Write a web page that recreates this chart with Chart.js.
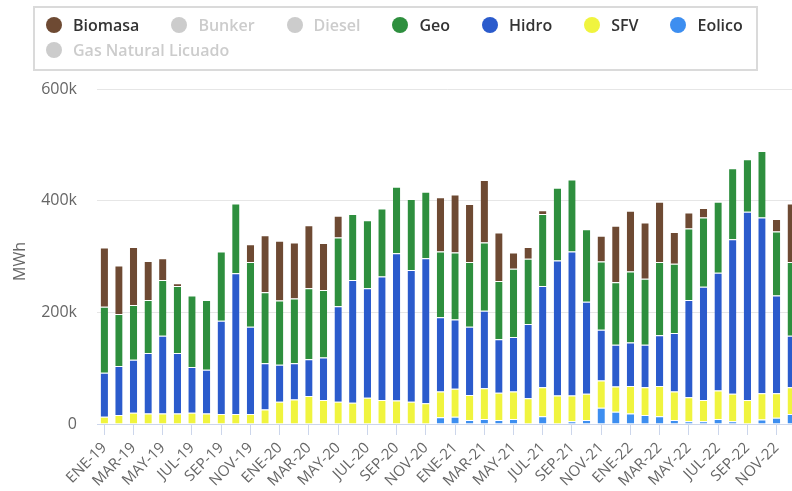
<!DOCTYPE html>
<html>
<head>
<meta charset="utf-8">
<script src="https://cdn.jsdelivr.net/npm/chart.js@4.4.1/dist/chart.umd.min.js"></script>
<style>
  html, body { margin: 0; padding: 0; overflow: hidden; background: #fff; }
  #wrap { position: absolute; left: 0; top: 0; width: 808px; height: 491px; }
  #legend {
    position: absolute; left: 33px; top: 6px; width: 725px; height: 65px;
    box-sizing: border-box; border: 2px solid #dadada; padding: 4px 0 0 11px;
    display: flex; flex-wrap: wrap; align-content: flex-start; column-gap: 32px;
    font: 600 16px 'Open Sans', sans-serif;
  }
  .item { display: flex; align-items: center; height: 25px; white-space: nowrap; }
  .dot { width: 16px; height: 16px; border-radius: 50%; margin-right: 11px; }
</style>
</head>
<body>
<div id="wrap"><canvas id="chart"></canvas></div>
<div id="legend"></div>
<script>
const months = [
  'ENE-19','FEB-19','MAR-19','ABR-19','MAY-19','JUN-19','JUL-19','AGO-19','SEP-19','OCT-19','NOV-19','DIC-19',
  'ENE-20','FEB-20','MAR-20','ABR-20','MAY-20','JUN-20','JUL-20','AGO-20','SEP-20','OCT-20','NOV-20','DIC-20',
  'ENE-21','FEB-21','MAR-21','ABR-21','MAY-21','JUN-21','JUL-21','AGO-21','SEP-21','OCT-21','NOV-21','DIC-21',
  'ENE-22','FEB-22','MAR-22','ABR-22','MAY-22','JUN-22','JUL-22','AGO-22','SEP-22','OCT-22','NOV-22','DIC-22'
];

// MWh por mes
const biomasa = [
  106000, 87000, 104000, 70000, 39000, 5000, 0, 0, 0, 0, 32000, 102000,
  107000, 100000, 113000, 84000, 39000, 0, 0, 0, 0, 0, 0, 97000,
  104000, 104000, 112000, 87000, 29000, 21000, 7000, 0, 0, 0, 46000, 101000,
  109000, 101000, 108000, 57000, 29000, 17000, 0, 0, 0, 0, 22000, 105000
];
const geo = [
  118000, 93000, 98000, 95000, 100000, 120000, 128000, 125000, 124000, 125000, 116000, 127000,
  115000, 116000, 127000, 121000, 123000, 118000, 122000, 122000, 119000, 127000, 119000, 118000,
  120000, 116000, 122000, 104000, 122000, 117000, 129000, 130000, 129000, 130000, 122000, 112000,
  127000, 118000, 131000, 124000, 128000, 124000, 127000, 127000, 94000, 119000, 115000, 132000
];
const hidro = [
  79000, 88000, 95000, 108000, 139000, 108000, 82000, 78000, 167000, 252000, 156000, 83000,
  66000, 65000, 66000, 76000, 171000, 220000, 196000, 221000, 264000, 236000, 260000, 133000,
  124000, 122000, 139000, 96000, 98000, 133000, 181000, 242000, 258000, 165000, 91000, 75000,
  78000, 76000, 91000, 105000, 174000, 203000, 211000, 277000, 337000, 315000, 175000, 92000
];
const sfv = [
  13000, 16000, 20000, 19000, 19000, 19000, 20000, 19000, 18000, 18000, 18000, 26000,
  40000, 44000, 50000, 43000, 40000, 38000, 47000, 43000, 42000, 40000, 37000, 46000,
  50000, 45000, 55000, 49000, 49000, 46000, 52000, 51000, 46000, 47000, 49000, 45000,
  49000, 50000, 54000, 51000, 43000, 38000, 51000, 49000, 43000, 47000, 44000, 48000
];
const eolico = [
  0, 0, 0, 0, 0, 0, 0, 0, 0, 0, 0, 0,
  0, 0, 0, 0, 0, 0, 0, 0, 0, 0, 0, 12000,
  13000, 7000, 9000, 7000, 9000, 0, 14000, 0, 5000, 7000, 29000, 22000,
  19000, 16000, 14000, 7000, 5000, 5000, 9000, 5000, 0, 8000, 11000, 18000
];
// series ocultas en la leyenda
const bunker = [];
const diesel = [];
const gnl = [];

const yTicks = [0, 200000, 400000, 600000];
const yTitle = 'MWh';

const bar = (label, data, color, hidden) => ({
  label: label,
  data: data,
  backgroundColor: color,
  borderColor: '#ffffff',
  borderWidth: { top: 1, left: 0, right: 0, bottom: 0 },
  hidden: hidden,
  stack: 's'
});

// el orden de abajo hacia arriba del apilado
const datasets = [
  bar('Gas Natural Licuado', gnl, '#8c8c8c', true),
  bar('Eolico', eolico, '#3d8ef0', false),
  bar('SFV', sfv, '#f0f43e', false),
  bar('Hidro', hidro, '#2b5bcc', false),
  bar('Geo', geo, '#2e8f3e', false),
  bar('Diesel', diesel, '#555555', true),
  bar('Bunker', bunker, '#333333', true),
  bar('Biomasa', biomasa, '#6e4a33', false)
];

// titulo del eje y, centrado en el area del grafico
const yTitlePlugin = {
  id: 'yTitle',
  afterDraw: (chart) => {
    const ctx = chart.ctx;
    const a = chart.chartArea;
    ctx.save();
    ctx.translate(20, (a.top + a.bottom) / 2 + 5);
    ctx.rotate(-Math.PI / 2);
    ctx.fillStyle = '#666666';
    ctx.font = "16px 'Open Sans', sans-serif";
    ctx.textAlign = 'center';
    ctx.textBaseline = 'middle';
    ctx.fillText(yTitle, 0, 0);
    ctx.restore();
  }
};

const chart = new Chart(document.getElementById('chart'), {
  type: 'bar',
  data: { labels: months, datasets: datasets },
  plugins: [yTitlePlugin],
  options: {
    responsive: true,
    maintainAspectRatio: false,
    animation: false,
    layout: { padding: { top: 89, right: 8, bottom: 0, left: 0 } },
    datasets: { bar: { categoryPercentage: 1, barPercentage: 0.5 } },
    plugins: {
      legend: { display: false },
      tooltip: { enabled: true }
    },
    scales: {
      x: {
        stacked: true,
        afterFit: (s) => { s.height = 67; },
        grid: {
          offset: false,
          drawOnChartArea: false,
          drawTicks: true,
          tickLength: 11,
          color: (c) => c.index % 2 ? 'rgba(0,0,0,0)' : '#ccd6eb',
          tickColor: (c) => c.index % 2 ? 'rgba(0,0,0,0)' : '#ccd6eb'
        },
        border: { display: true, color: '#ccd6eb', width: 1 },
        ticks: {
          autoSkip: false,
          minRotation: 45,
          maxRotation: 45,
          padding: 4,
          color: '#666666',
          font: { family: "'Open Sans', sans-serif", size: 15 },
          callback: function (value, index) {
            return index % 2 ? '' : this.getLabelForValue(value);
          }
        }
      },
      y: {
        stacked: true,
        min: 0,
        max: 600000,
        afterFit: (s) => { s.width = 97; },
        afterBuildTicks: (s) => { s.ticks = yTicks.map(v => ({ value: v })); },
        grid: { color: '#e6e6e6', drawTicks: false },
        border: { display: false },
        ticks: {
          padding: 20,
          color: '#666666',
          font: { family: "'Open Sans', sans-serif", size: 16 },
          callback: (v) => v === 0 ? '0' : (v / 1000) + 'k'
        }
      }
    }
  }
});

// leyenda en html, mismo orden que el original
const legendEl = document.getElementById('legend');
chart.data.datasets.slice().reverse().forEach((ds) => {
  const item = document.createElement('div');
  item.className = 'item';
  const dot = document.createElement('span');
  dot.className = 'dot';
  dot.style.background = ds.hidden ? '#cccccc' : ds.backgroundColor;
  const txt = document.createElement('span');
  txt.textContent = ds.label;
  txt.style.color = ds.hidden ? '#cccccc' : '#333333';
  item.appendChild(dot);
  item.appendChild(txt);
  legendEl.appendChild(item);
});
</script>
</body>
</html>
